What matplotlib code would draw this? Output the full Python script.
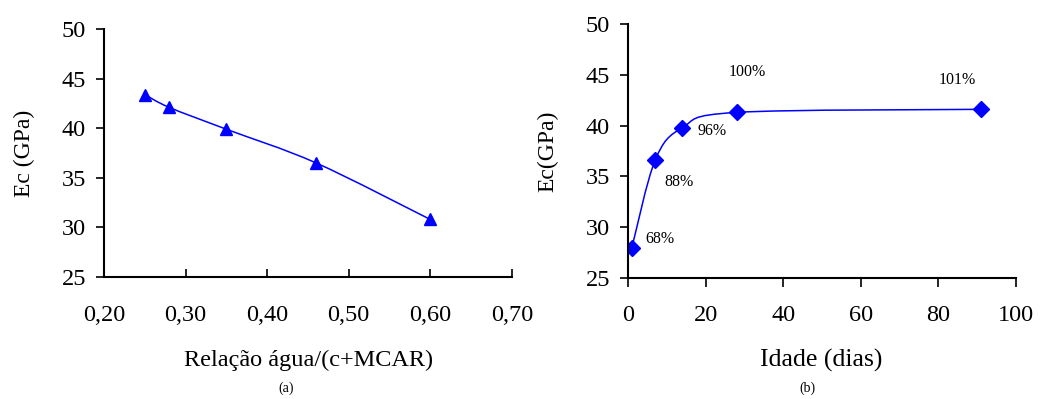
import matplotlib

matplotlib.use("Agg")
import matplotlib.pyplot as plt
import numpy as np
from matplotlib.path import Path
from matplotlib.patches import PathPatch

plt.rcParams["font.family"] = ["Liberation Serif", "DejaVu Serif"]

# (a) Ec vs water/(c+MCAR) ratio
ratio = [0.25, 0.28, 0.35, 0.46, 0.60]
ec_ratio = [43.4, 42.1, 39.9, 36.5, 30.8]

# (b) Ec vs age
age_days = [1, 7, 14, 28, 91]
ec_age = [28.0, 36.6, 39.8, 41.3, 41.6]
pct_labels = ["68%", "88%", "96%", "100%", "101%"]
pct_pos = [(4.6, 28.8), (9.3, 34.5), (18.0, 39.5), (26.0, 45.3), (80.0, 44.5)]

BLUE = "#0000FF"
TICK_FS = 17.5


def smooth_path(x, y):
    # Excel-style smoothed line: cubic Bezier segments through the points
    p = np.column_stack([x, y]).astype(float)
    n = len(p)
    verts = [p[0]]
    codes = [Path.MOVETO]
    for i in range(n - 1):
        p0 = p[i - 1] if i > 0 else p[i]
        p3 = p[i + 2] if i + 2 < n else p[i + 1]
        c1 = p[i] + (p[i + 1] - p0) / 6.0
        c2 = p[i + 1] - (p3 - p[i]) / 6.0
        verts += [c1, c2, p[i + 1]]
        codes += [Path.CURVE4] * 3
    return Path(verts, codes)


def style_axes(ax):
    for side in ("top", "right"):
        ax.spines[side].set_visible(False)
    for side in ("left", "bottom"):
        ax.spines[side].set_linewidth(1.5)
    ax.tick_params(axis="y", direction="out", length=6, width=1.2,
                   labelsize=TICK_FS, pad=7)


fig = plt.figure(figsize=(10.53, 3.99), dpi=100)

# --- (a)
ax1 = fig.add_axes([0.0988, 0.306, 0.3872, 0.621])
style_axes(ax1)
ax1.add_patch(PathPatch(smooth_path(ratio, ec_ratio), fill=False,
                        edgecolor=BLUE, lw=1.1))
ax1.plot(ratio, ec_ratio, ls="none", marker="^", ms=8, color=BLUE)
ax1.set_xlim(0.20, 0.70)
ax1.set_ylim(25, 50)
xt = np.arange(0.20, 0.71, 0.10)
ax1.set_xticks(xt)
ax1.set_xticklabels([f"{v:.2f}".replace(".", ",") for v in xt])
ax1.set_yticks(range(25, 51, 5))
ax1.tick_params(axis="x", direction="in", length=6, width=1.2,
                labelsize=TICK_FS, pad=20)
ax1.set_ylabel("Ec (GPa)", fontsize=17, va="center")
ax1.yaxis.set_label_coords(-0.194, 0.5)
ax1.set_xlabel("Relação água/(c+MCAR)", fontsize=17.5, va="center")
ax1.xaxis.set_label_coords(0.502, -0.339)
fig.text(0.272, 0.028, "(a)", fontsize=10, ha="center", va="center")

# --- (b)
ax2 = fig.add_axes([0.5964, 0.303, 0.3685, 0.637])
style_axes(ax2)
ax2.add_patch(PathPatch(smooth_path(age_days, ec_age), fill=False,
                        edgecolor=BLUE, lw=1.1))
ax2.plot(age_days, ec_age, ls="none", marker="D", ms=8, color=BLUE)
for lab, (px, py) in zip(pct_labels, pct_pos):
    ax2.text(px, py, lab, fontsize=11.5, ha="left", va="center")
ax2.set_xlim(0, 100)
ax2.set_ylim(25, 50)
ax2.set_xticks(range(0, 101, 20))
ax2.set_yticks(range(25, 51, 5))
ax2.tick_params(axis="x", direction="out", length=6.5, width=1.2,
                labelsize=TICK_FS, pad=13)
ax2.set_ylabel("Ec(GPa)", fontsize=17, va="center")
ax2.yaxis.set_label_coords(-0.206, 0.5)
ax2.set_xlabel("Idade (dias)", fontsize=18.5, va="center")
ax2.xaxis.set_label_coords(0.497, -0.323)
fig.text(0.767, 0.028, "(b)", fontsize=10, ha="center", va="center")

fig.savefig("out.png", dpi=100)
